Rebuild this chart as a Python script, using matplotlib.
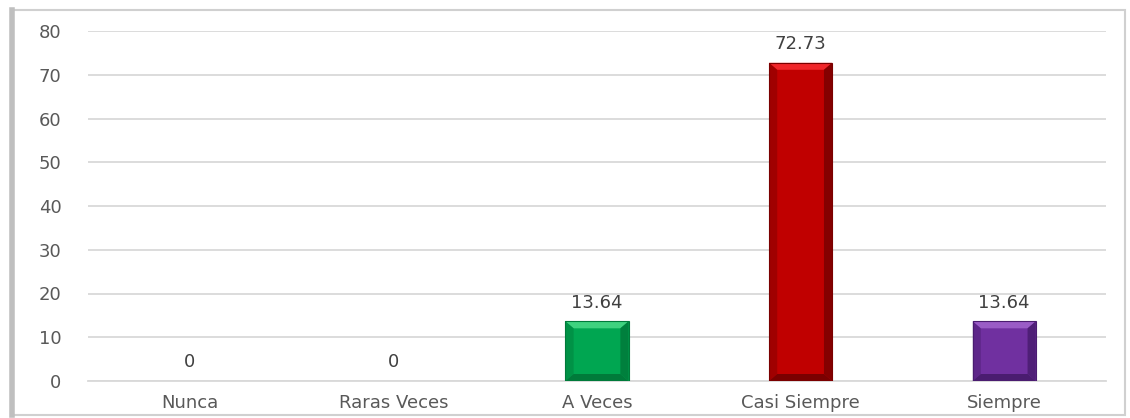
import matplotlib
matplotlib.use("Agg")
import matplotlib.pyplot as plt
from matplotlib.patches import Polygon, Rectangle
import numpy as np

categories = ["Nunca", "Raras Veces", "A Veces", "Casi Siempre", "Siempre"]
values = [0, 0, 13.64, 72.73, 13.64]
labels = ["0", "0", "13.64", "72.73", "13.64"]
colors = ["#4472C4", "#ED7D31", "#00A651", "#C00000", "#7030A0"]
light = ["#6F94D8", "#F19A5C", "#3FD27F", "#F0262A", "#9A5CC6"]
dark = ["#2F5597", "#B55A1B", "#007A3A", "#7A0000", "#4A1C70"]
yticks = [0, 10, 20, 30, 40, 50, 60, 70, 80]

fig = plt.figure(figsize=(11.3, 4.18), dpi=100)
ax = fig.add_axes([88/1130, 37/418, 1018/1130, 350/418])

x = np.arange(len(categories))
bars = ax.bar(x, values, width=0.31, color=colors, zorder=3, edgecolor="none")

# bevel effect built from each bar's geometry
for b, c, lc, dc in zip(bars, colors, light, dark):
    h = b.get_height()
    if h <= 0:
        continue
    x0, w = b.get_x(), b.get_width()
    bw = w * 0.13
    bh = min(1.6, h * 0.12)
    ax.add_patch(Polygon([[x0, h], [x0 + w, h], [x0 + w - bw, h - bh], [x0 + bw, h - bh]],
                         closed=True, facecolor=lc, edgecolor="none", zorder=4))
    ax.add_patch(Polygon([[x0, 0], [x0 + w, 0], [x0 + w - bw, bh], [x0 + bw, bh]],
                         closed=True, facecolor=dc, edgecolor="none", zorder=4))
    ax.add_patch(Polygon([[x0 + w, 0], [x0 + w, h], [x0 + w - bw, h - bh], [x0 + w - bw, bh]],
                         closed=True, facecolor=dc, edgecolor="none", zorder=4, alpha=0.85))
    ax.add_patch(Polygon([[x0, 0], [x0, h], [x0 + bw, h - bh], [x0 + bw, bh]],
                         closed=True, facecolor=dc, edgecolor="none", zorder=4, alpha=0.45))
    ax.add_patch(Rectangle((x0, 0), w, h, facecolor="none", edgecolor=dc, lw=0.8, zorder=5))

for xi, v, lab in zip(x, values, labels):
    ax.annotate(lab, (xi, v), xytext=(0, 7), textcoords="offset points",
                ha="center", va="bottom", fontsize=13, color="#404040")

ax.set_ylim(0, 80)
ax.set_xlim(-0.5, len(categories) - 0.5)
ax.set_yticks(yticks)
ax.set_yticklabels([str(t) for t in yticks])
ax.set_xticks(x)
ax.set_xticklabels(categories)
ax.yaxis.grid(True, color="#D9D9D9", lw=1.3, zorder=0)
ax.set_axisbelow(True)
for s in ["top", "right", "left"]:
    ax.spines[s].set_visible(False)
ax.spines["bottom"].set_color("#D9D9D9")
ax.spines["bottom"].set_linewidth(1.3)
ax.tick_params(axis="y", length=0, pad=19, labelsize=13, labelcolor="#595959")
ax.tick_params(axis="x", length=0, pad=9, labelsize=13, labelcolor="#595959")

# outer chart frame
fig.add_artist(Rectangle((12/1130, 3/418), 1113/1130, 405/418, transform=fig.transFigure,
                         facecolor="none", edgecolor="#D0D0D0", lw=1.5))
fig.add_artist(plt.Line2D([12/1130, 12/1130], [3/418, 408/418], transform=fig.transFigure,
                          color="#BFBFBF", lw=4))

fig.savefig("out.png", dpi=100)
